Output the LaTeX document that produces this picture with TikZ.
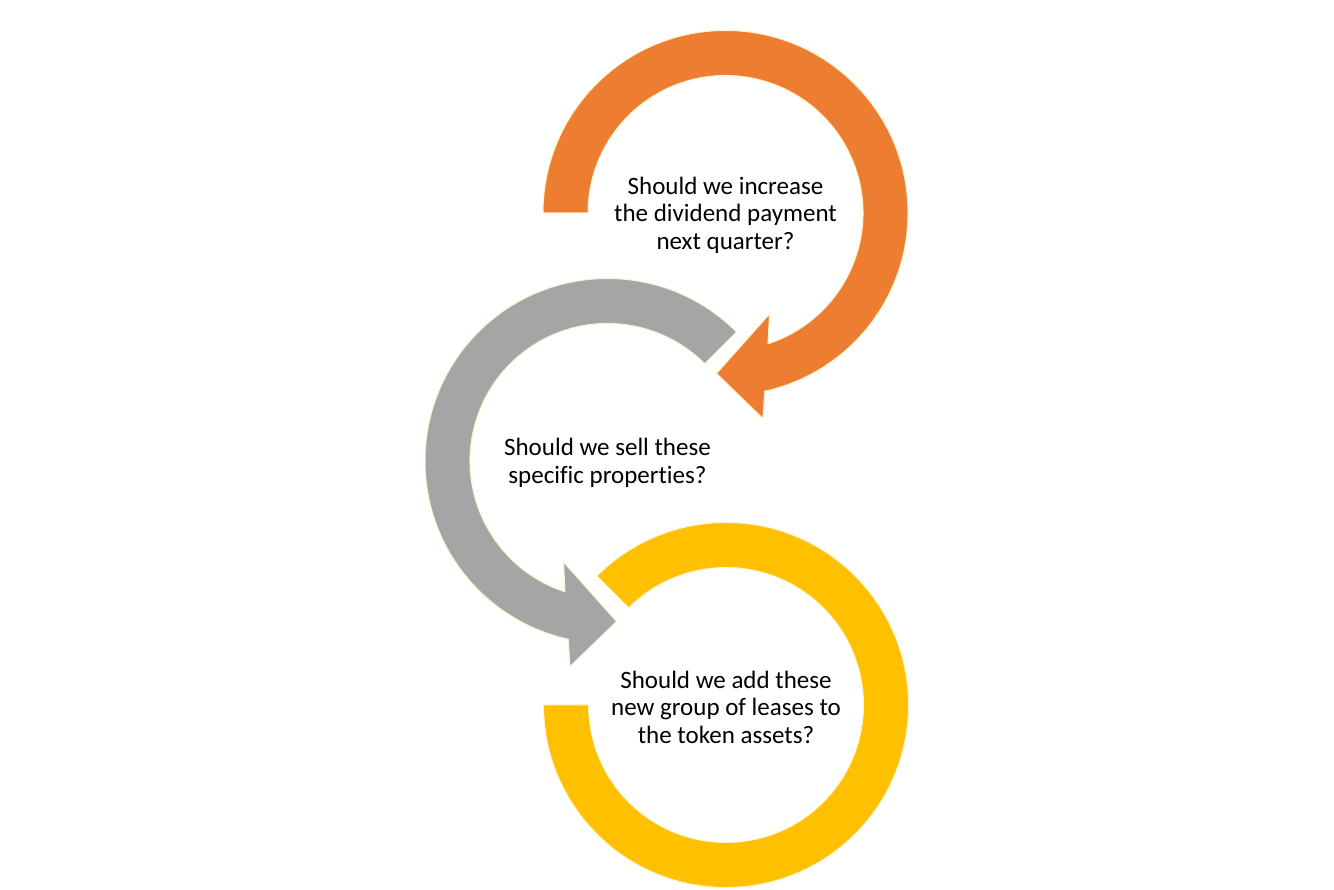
\documentclass[tikz,border=0pt]{standalone}
\usepackage{fontspec}
\setmainfont{Carlito}[Ligatures=NoCommon]
\usepackage{tikz}
\usetikzlibrary{positioning}
\definecolor{ringorange}{HTML}{ED7D31}
\definecolor{ringgray}{HTML}{A5A5A5}
\definecolor{ringyellow}{HTML}{FFC000}
\definecolor{ringedge}{HTML}{FFF2CC}
\begin{document}
\begin{tikzpicture}[x=1pt,y=1pt,
    ring/.style={draw=ringedge,line width=1pt,line join=miter},
    question/.style={align=center,inner sep=0pt,yshift=-2pt,font=\fontsize{25}{27.5}\selectfont}]
  \useasboundingbox (0,0) rectangle (1334,890);
  \coordinate (dividend) at (725.5,677);
  \coordinate (sell) at (607.5,429);
  \coordinate (leases) at (726,185);
  % orange arrow, clockwise
  \begin{scope}[shift={(dividend)}]
    \fill[ring,fill=ringorange] (180:182.5) arc[start angle=180,end angle=-77.6,radius=182.5]
      -- (37.5,-205.5) -- (-9,-160.5) -- (44,-101) -- (-72:137.5)
      arc[start angle=-72,end angle=180,radius=137.5] -- cycle;
  \end{scope}
  % gray arrow, anticlockwise
  \begin{scope}[shift={(sell)}]
    \fill[ring,fill=ringgray] (45:182.5) arc[start angle=45,end angle=257.6,radius=182.5]
      -- (-37.5,-205.5) -- (9,-160.5) -- (-44,-101) -- (252:137.5)
      arc[start angle=252,end angle=45,radius=137.5] -- cycle;
  \end{scope}
  % yellow ring, no head
  \begin{scope}[shift={(leases)}]
    \fill[ring,fill=ringyellow] (180:182.5) arc[start angle=180,end angle=495,radius=182.5]
      -- (135:137.5) arc[start angle=135,end angle=-180,radius=137.5] -- cycle;
  \end{scope}
  \node[question] (q1) at (dividend) {Should we increase\\the dividend payment\\next quarter?};
  \node[question] (q2) at (sell) {Should we sell these\\specific properties?};
  \node[question] (q3) at (leases) {Should we add these\\new group of leases to\\the token assets?};
\end{tikzpicture}
\end{document}
